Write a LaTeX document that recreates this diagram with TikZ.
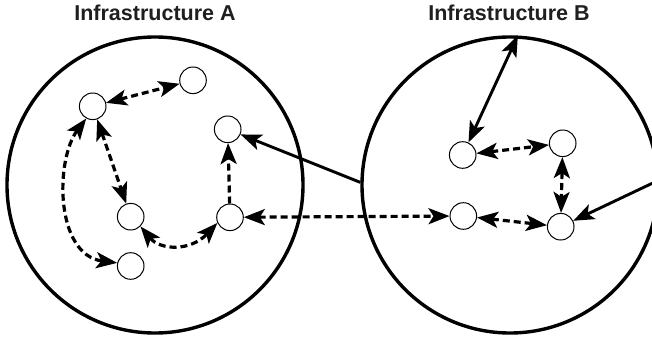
\documentclass[tikz,border=0pt]{standalone}
\usepackage{fontspec}
\setmainfont{Liberation Sans}
\usetikzlibrary{arrows.meta}
\begin{document}
\begin{tikzpicture}[x=1pt,y=-1pt,
  >={Stealth[length=21pt,width=16pt,inset=5pt]},
  dev/.style={circle,draw,line width=1pt,minimum size=26.6pt,inner sep=0pt,fill=white},
  infra/.style={circle,draw,line width=3.4pt,minimum size=296pt,inner sep=0pt},
  dlink/.style={line width=3.2pt,dash pattern=on 7pt off 4pt},
  slink/.style={line width=2.9pt},
  ttl/.style={font=\fontsize{21.5}{24}\selectfont\bfseries,text=black!88,anchor=base,inner sep=0pt}
]
\useasboundingbox (0,0) rectangle (652,339);
\clip (0,0) rectangle (652,339);

\node[infra] (A) at (155,185) {};
\node[infra] (B) at (510,185) {};
\node[ttl] (tA) at (155,21) {Infrastructure A};
\node[ttl] (tB) at (509,21) {Infrastructure B};

\node[dev] (n1) at (92.7,106.3) {};
\node[dev] (n2) at (193,80.3) {};
\node[dev] (n3) at (227.7,129.3) {};
\node[dev] (n4) at (130.7,216.7) {};
\node[dev] (n5) at (230,217.3) {};
\node[dev] (n6) at (130.7,266) {};

\node[dev] (m1) at (462.7,155) {};
\node[dev] (m2) at (562.7,143.3) {};
\node[dev] (m3) at (463.3,216) {};
\node[dev] (m4) at (560.7,226.7) {};

\draw[dlink,<->] (n1) -- (n2);
\draw[dlink,<->] (n1) -- (n4);
\draw[dlink,<->] (n1.242) .. controls (55,160) and (55,255) .. (n6.167);
\draw[dlink,<->] (n4.-45) .. controls (160,250) and (190,252) .. (n5.204);
\draw[dlink,->] (n5) -- (n3);
\draw[dlink,<->] (n5) -- (m3);
\draw[slink,->] (B.179) -- (n3);

\draw[slink,<->] (B.87) -- (m1);
\draw[dlink,<->] (m1) -- (m2);
\draw[dlink,<->] (m2) -- (m4);
\draw[dlink,<->] (m3) -- (m4);
\draw[slink,->] (B.2) -- (m4);
\end{tikzpicture}
\end{document}
